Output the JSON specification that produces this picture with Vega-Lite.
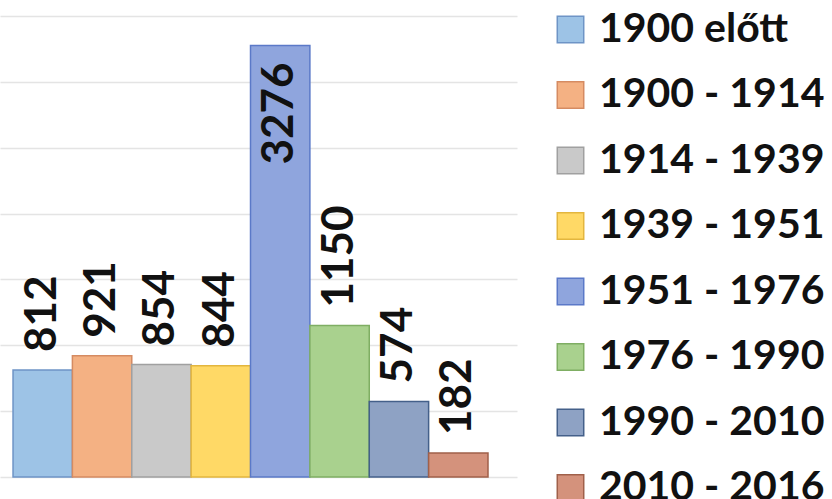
{
  "$schema": "https://vega.github.io/schema/vega-lite/v6.json",
  "autosize": {"type": "none"},
  "padding": {"left": 0, "top": 16, "right": 315, "bottom": 22},
  "width": 517,
  "height": 461,
  "background": "white",
  "config": {"view": {"stroke": null}, "font": "Lato"},
  "data": {
    "values": [
      {"idoszak": "1900 előtt", "db": 812},
      {"idoszak": "1900 - 1914", "db": 921},
      {"idoszak": "1914 - 1939", "db": 854},
      {"idoszak": "1939 - 1951", "db": 844},
      {"idoszak": "1951 - 1976", "db": 3276},
      {"idoszak": "1976 - 1990", "db": 1150},
      {"idoszak": "1990 - 2010", "db": 574},
      {"idoszak": "2010 - 2016", "db": 182}
    ]
  },
  "encoding": {
    "x": {
      "field": "idoszak",
      "type": "nominal",
      "sort": null,
      "scale": {"paddingInner": 0, "paddingOuter": 0.354, "align": 0.31},
      "axis": null
    },
    "y": {
      "field": "db",
      "type": "quantitative",
      "scale": {"domain": [0, 3500], "nice": false},
      "axis": {
        "values": [0, 500, 1000, 1500, 2000, 2500, 3000, 3500],
        "domain": false,
        "ticks": false,
        "labels": false,
        "title": null,
        "grid": true,
        "gridColor": "#e4e4e4",
        "gridWidth": 1.5
      }
    }
  },
  "layer": [
    {
      "mark": {"type": "bar", "strokeWidth": 1.5},
      "encoding": {
        "fill": {
          "field": "idoszak",
          "type": "nominal",
          "sort": null,
          "scale": {
            "range": ["#9DC3E6", "#F4B183", "#C9C9C9", "#FFD966", "#8FA5DD", "#A9D18E", "#8EA2C4", "#D4927C"]
          },
          "legend": {
            "title": null,
            "orient": "none",
            "legendX": 550,
            "legendY": -7,
            "padding": 0,
            "symbolType": "square",
            "symbolSize": 700,
            "symbolStrokeWidth": 1.5,
            "labelFont": "Lato",
            "labelFontWeight": "bold",
            "labelFontSize": 41,
            "labelColor": "#111111",
            "labelOffset": 8,
            "labelLimit": 400,
            "rowPadding": 23.5
          }
        },
        "stroke": {
          "field": "idoszak",
          "type": "nominal",
          "sort": null,
          "scale": {
            "range": ["#6E94C6", "#D58B62", "#A0A0A0", "#E3B63E", "#5B79C8", "#7FAE63", "#44608A", "#A0604A"]
          },
          "legend": {
            "title": null,
            "orient": "none",
            "legendX": 550,
            "legendY": -7,
            "padding": 0,
            "symbolType": "square",
            "symbolSize": 700,
            "symbolStrokeWidth": 1.5,
            "labelFont": "Lato",
            "labelFontWeight": "bold",
            "labelFontSize": 41,
            "labelColor": "#111111",
            "labelOffset": 8,
            "labelLimit": 400,
            "rowPadding": 23.5
          }
        }
      }
    },
    {
      "transform": [{"filter": "datum.db < 3000"}],
      "mark": {"type": "text", "angle": 270, "align": "left", "baseline": "middle", "dx": 18, "font": "Lato", "fontWeight": "bold", "fontSize": 44, "color": "#111111"},
      "encoding": {"text": {"field": "db", "type": "quantitative"}}
    },
    {
      "transform": [{"filter": "datum.db >= 3000"}],
      "mark": {"type": "text", "angle": 270, "align": "right", "baseline": "middle", "dx": -17, "font": "Lato", "fontWeight": "bold", "fontSize": 44, "color": "#111111"},
      "encoding": {"text": {"field": "db", "type": "quantitative"}}
    }
  ]
}
